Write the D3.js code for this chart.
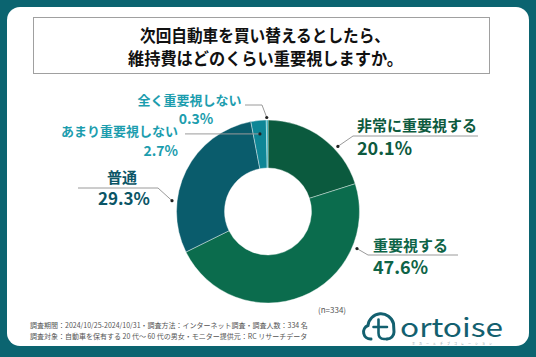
<!DOCTYPE html>
<html><head><meta charset="utf-8">
<script src="https://cdn.jsdelivr.net/npm/d3@7"></script>
<style>
html,body{margin:0;padding:0;background:#0b6470;}
svg{display:block;}
text{font-family:"Noto Sans CJK JP","Noto Sans",sans-serif;}
</style></head>
<body>
<svg id="c" width="536" height="357"></svg>
<script>
// ---- data ----
const categories = ["非常に重要視する","重要視する","普通","あまり重要視しない","全く重要視しない"];
const values = [20.1, 47.6, 29.3, 2.7, 0.3];
const valueLabels = ["20.1%","47.6%","29.3%","2.7%","0.3%"];
const titleLines = ["次回自動車を買い替えるとしたら、","維持費はどのくらい重要視しますか。"];
const footnotes = ["調査期間：2024/10/25-2024/10/31・調査方法：インターネット調査・調査人数：334 名",
                   "調査対象：自動車を保有する 20 代～ 60 代の男女・モニター提供元：RC リサーチデータ"];
const sampleNote = "(n=334)";

// ---- styles / layout ----
const sliceColors = ["#0b5a3e","#0b6c4d","#0a5c6c","#0e8696","#20a7b5"];
const textColors  = ["#0d5a3e","#0e6447","#0b5566","#1c9dae","#1c9dae"];
const cx = 268, cy = 211.5, R = 91.5, r0 = 43.5;
// annotation layout: fraction along slice & radius of dot, elbow, end of line, label anchor/pos, font sizes
const ann = [
  {t:0.65, dr:95.5, elbow:[353,136], end:[478,136], anchor:"start", nx:357, ny:125.5, px:357, py:148.5, nfs:15, pfs:18},
  {t:0.235,dr:96.4, elbow:[368,255], end:[458,255], anchor:"start", nx:373, ny:245.5, px:373, py:267.5, nfs:15, pfs:18},
  {t:0.31, dr:96.6, elbow:[158,188], end:[78,188],  anchor:"middle",nx:122, ny:177.5, px:124, py:199, nfs:15, pfs:17},
  {t:0.5,  dr:78,   elbow:null,      end:[185,133], anchor:"end",   nx:178, ny:131.5, px:178, py:150.5, nfs:13, pfs:14},
  {t:0.3,  dr:94,   elbow:[262,105], end:[245,105], anchor:"middle",nx:189.5,ny:100,  px:196, py:119, nfs:13, pfs:14}
];

const svg = d3.select("#c");
svg.append("rect").attr("x",0).attr("y",0).attr("width",536).attr("height",357).attr("fill","#0b6470");
svg.append("rect").attr("x",7).attr("y",7).attr("width",522).attr("height",339).attr("rx",13).attr("fill","#ffffff");

// title box
svg.append("rect").attr("x",33.5).attr("y",17.5).attr("width",456).attr("height",56)
  .attr("fill","#fff").attr("stroke","#a0a0a0").attr("stroke-width",1);
const tl = [{y:36.5, len:250, x:140},{y:59.5, len:275, x:128}];
titleLines.forEach((s,i)=>{
  svg.append("text").attr("x",tl[i].x).attr("y",tl[i].y).attr("dy","0.35em")
    .attr("textLength",tl[i].len).attr("lengthAdjust","spacingAndGlyphs")
    .attr("font-size",17).attr("font-weight",700).attr("fill","#111").text(s);
});

// donut
const pie = d3.pie().sort(null).value(d=>d).startAngle(0).endAngle(2*Math.PI);
const arcs = pie(values);
const arc = d3.arc().innerRadius(r0).outerRadius(R);
const g = svg.append("g").attr("transform",`translate(${cx},${cy})`);
g.selectAll("path").data(arcs).join("path")
  .attr("d",arc).attr("fill",(d,i)=>sliceColors[i])
  .attr("stroke","#ffffff").attr("stroke-width",0.4);

// annotations
arcs.forEach((a,i)=>{
  const L = ann[i];
  const ang = a.startAngle + (a.endAngle-a.startAngle)*L.t;
  const dx = cx + L.dr*Math.sin(ang), dy = cy - L.dr*Math.cos(ang);
  const pts = [[dx,dy]];
  if (L.elbow) pts.push(L.elbow);
  pts.push(L.elbow ? L.end : [L.end[0], dy]);
  svg.append("path").attr("d", d3.line()(pts)).attr("fill","none")
    .attr("stroke","#9a9a9a").attr("stroke-width",1);
  svg.append("circle").attr("cx",dx).attr("cy",dy).attr("r",1.6).attr("fill","#222");
  svg.append("text").attr("x",L.nx).attr("y",L.ny).attr("dy","0.36em")
    .attr("text-anchor",L.anchor).attr("font-size",L.nfs).attr("font-weight",700)
    .attr("fill",textColors[i]).text(categories[i]);
  svg.append("text").attr("x",L.px).attr("y",L.py).attr("dy","0.36em")
    .attr("text-anchor",L.anchor).attr("font-size",L.pfs).attr("font-weight",700)
    .attr("fill",textColors[i]).text(valueLabels[i]);
});

// notes
svg.append("text").attr("x",318).attr("y",310).attr("dy","0.35em").attr("font-size",8)
  .attr("fill","#555").text(sampleNote);
footnotes.forEach((s,i)=>{
  svg.append("text").attr("x",30).attr("y",326+i*11).attr("dy","0.35em")
    .attr("font-size",7).attr("fill","#555").text(s);
});

// logo
const logo = svg.append("g");
logo.append("path")
  .attr("d","M371,339 A7,7 0 0 1 368,325.5 A13,13 0 0 1 393.5,323.5 L394,332 A7,7 0 0 1 387,339")
  .attr("fill","none").attr("stroke","#13606f").attr("stroke-width",3).attr("stroke-linecap","round");
logo.append("path")
  .attr("d","M378.5,319.5 L378.5,333 Q378.5,339 384,339 L387,339 M373.5,327 L387,327")
  .attr("fill","none").attr("stroke","#13606f").attr("stroke-width",2.6).attr("stroke-linecap","round");
logo.append("text").attr("x",400).attr("y",336.5).attr("font-family","'Noto Sans',sans-serif")
  .attr("font-size",26).attr("font-weight",400).attr("fill","#13606f")
  .attr("textLength",103).attr("lengthAdjust","spacingAndGlyphs").text("ortoise");
logo.append("text").attr("x",412).attr("y",345).attr("font-size",3)
  .attr("fill","#7a8f94").attr("textLength",80).attr("lengthAdjust","spacing").text("ホカールチブコレーション");
</script>
</body></html>
